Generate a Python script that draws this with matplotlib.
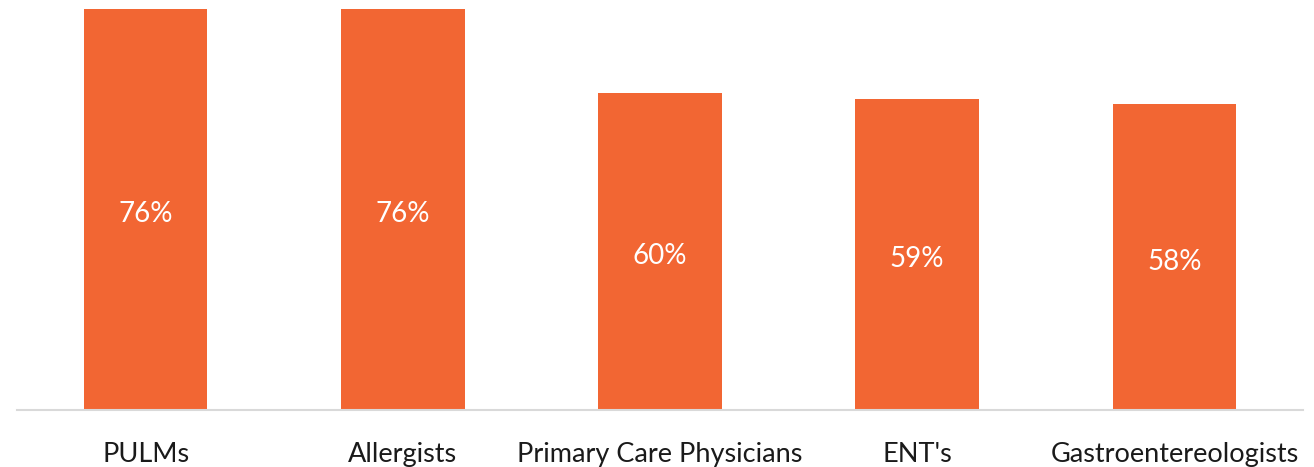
import matplotlib.pyplot as plt
import numpy as np

categories = ['PULMs', 'Allergists', 'Primary Care Physicians', "ENT's", 'Gastroentereologists']
values = [76, 76, 60, 59, 58]
labels = ['76%', '76%', '60%', '59%', '58%']

bar_color = '#F26633'
font = 'Lato'

fig = plt.figure(figsize=(13.14, 4.67), dpi=100)
ax = fig.add_axes([17 / 1314, 57 / 467, 1286 / 1314, 410 / 467])

x = np.arange(len(categories))
bars = ax.bar(x, values, width=0.48, color=bar_color, zorder=2)

for b, lab in zip(bars, labels):
    # label sits a touch below the bar's middle
    ax.text(b.get_x() + b.get_width() / 2, b.get_height() / 2 - 0.4, lab,
            ha='center', va='center_baseline', color='white', fontsize=20,
            family=font)

ax.set_xlim(-0.5, len(categories) - 0.5)
ax.set_ylim(0, 77.7)
ax.set_xticks(x)
ax.set_xticklabels(categories, fontsize=19.5, family=font, color='#1a1a1a')
ax.tick_params(axis='x', length=0, pad=23)
ax.set_yticks([])

for s in ['top', 'right', 'left']:
    ax.spines[s].set_visible(False)
ax.spines['bottom'].set_color('#D9D9D9')
ax.spines['bottom'].set_linewidth(1.5)

fig.savefig('out.png', dpi=100)
